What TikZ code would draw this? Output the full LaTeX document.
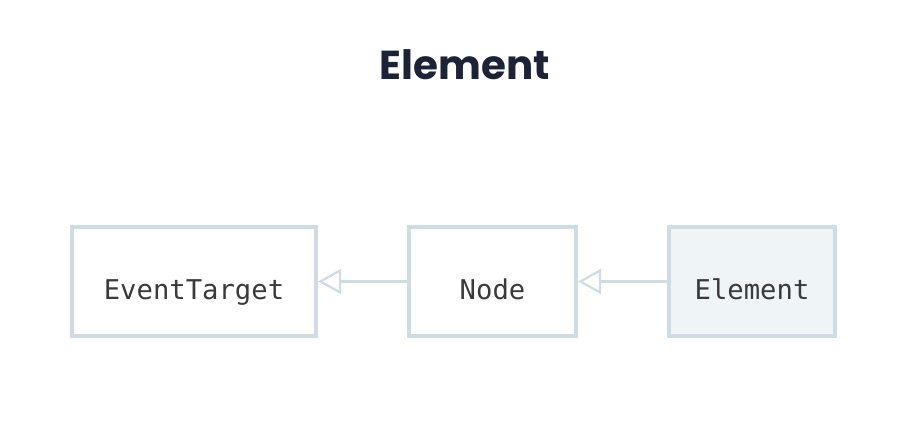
\documentclass[tikz,border=0pt]{standalone}
\usepackage{fontspec}
\setmainfont{Poppins}
\setmonofont{DejaVu Sans Mono}
\usetikzlibrary{positioning, arrows.meta}

\definecolor{boxline}{HTML}{CFDCE3}
\definecolor{boxfill}{HTML}{EFF5F7}
\definecolor{titlecol}{HTML}{1C2337}
\definecolor{textcol}{HTML}{3A3A3A}

\begin{document}
\begin{tikzpicture}[
    node distance=1.78cm,
    box/.style={
        draw=boxline,
        line width=0.08cm,
        rectangle,
        minimum height=2.18cm,
        text=textcol,
        font=\fontsize{15.5}{18}\ttfamily,
        text height=0.74cm,
        text depth=0cm
    },
    classbox/.style={
        box,
        fill=white
    },
    mainbox/.style={
        box,
        fill=boxfill
    },
    arrow/.style={-{Triangle[open, length=0.46cm, width=0.5cm]}, draw=boxline, line width=0.045cm}
]
\useasboundingbox[fill=white] (0,0) rectangle (18.42,-8.9);

% Title
\node[anchor=base, font=\fontsize{23}{28}\selectfont\bfseries, text=titlecol] (title) at (9.3,-1.6) {Element};

% Class boxes - in a row
\node[classbox, minimum width=4.88cm] (target) at (3.88,-5.63) {EventTarget};
\node[classbox, minimum width=3.34cm, right=of target] (node) {Node};
\node[mainbox, minimum width=3.32cm, right=of node] (element) {Element};

% Inheritance arrows
\draw[arrow] (node.west) -- (target.east);
\draw[arrow] (element.west) -- (node.east);

\end{tikzpicture}
\end{document}
